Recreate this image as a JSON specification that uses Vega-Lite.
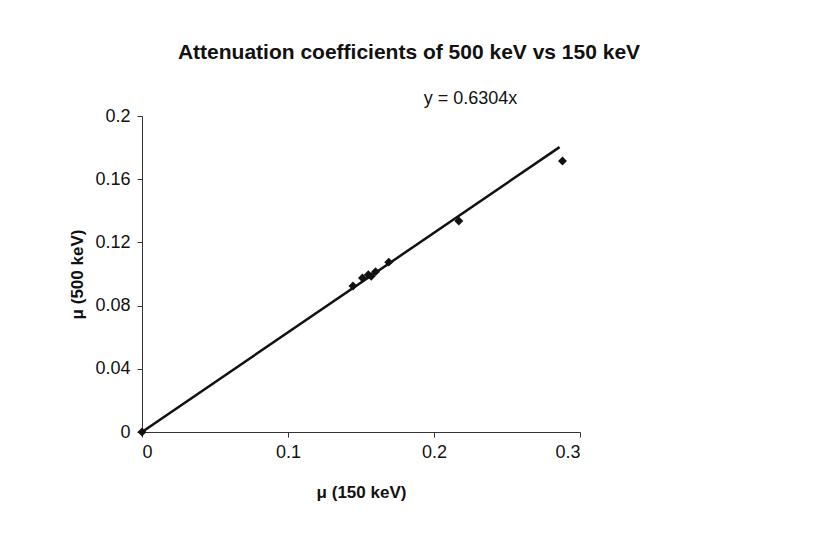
{
  "$schema": "https://vega.github.io/schema/vega-lite/v6.json",
  "width": 438,
  "height": 316,
  "autosize": "none",
  "padding": {"left": 142, "top": 116, "right": 244, "bottom": 119},
  "background": "white",
  "config": {
    "view": {"stroke": null},
    "font": "Liberation Sans",
    "axis": {
      "grid": false,
      "domainColor": "#333",
      "tickColor": "#333",
      "labelColor": "#111",
      "titleColor": "#111",
      "labelFont": "Liberation Sans",
      "titleFont": "Liberation Sans",
      "labelFontSize": 18,
      "titleFontSize": 17,
      "titleFontWeight": "bold",
      "tickSize": 5
    }
  },
  "title": {
    "text": "Attenuation coefficients of 500 keV vs 150 keV",
    "fontSize": 21,
    "fontWeight": "bold",
    "font": "Liberation Sans",
    "color": "#111",
    "offset": 27,
    "anchor": "middle",
    "dx": 48
  },
  "datasets": {
    "pts": [
      {"x": 0, "y": 0},
      {"x": 0.1445, "y": 0.0924},
      {"x": 0.151, "y": 0.0975},
      {"x": 0.155, "y": 0.0995},
      {"x": 0.157, "y": 0.0985},
      {"x": 0.16, "y": 0.1015},
      {"x": 0.169, "y": 0.1075},
      {"x": 0.217, "y": 0.1335},
      {"x": 0.288, "y": 0.1715}
    ],
    "fit": [
      {"x": 0, "y": 0},
      {"x": 0.286, "y": 0.1803}
    ],
    "eq": [
      {"x": 0.225, "y": 0.2108, "label": "y = 0.6304x"}
    ]
  },
  "layer": [
    {
      "data": {"name": "fit"},
      "mark": {"type": "line", "color": "#111", "strokeWidth": 2.5},
      "encoding": {
        "x": {
          "field": "x", "type": "quantitative",
          "scale": {"domain": [0, 0.3], "nice": false},
          "axis": {"values": [0, 0.1, 0.2, 0.3], "title": "μ (150 keV)", "titlePadding": 23, "labelPadding": 6, "format": "~g"}
        },
        "y": {
          "field": "y", "type": "quantitative",
          "scale": {"domain": [0, 0.2], "nice": false},
          "axis": {"values": [0, 0.04, 0.08, 0.12, 0.16, 0.2], "title": "μ (500 keV)", "titlePadding": 8, "labelPadding": 7, "format": "~g"}
        }
      }
    },
    {
      "data": {"name": "pts"},
      "mark": {"type": "point", "shape": "diamond", "filled": true, "color": "#111", "size": 80, "opacity": 1},
      "encoding": {
        "x": {"field": "x", "type": "quantitative"},
        "y": {"field": "y", "type": "quantitative"}
      }
    },
    {
      "data": {"name": "eq"},
      "mark": {"type": "text", "fontSize": 18, "color": "#111", "font": "Liberation Sans", "clip": false},
      "encoding": {
        "x": {"field": "x", "type": "quantitative"},
        "y": {"field": "y", "type": "quantitative"},
        "text": {"field": "label"}
      }
    }
  ]
}
